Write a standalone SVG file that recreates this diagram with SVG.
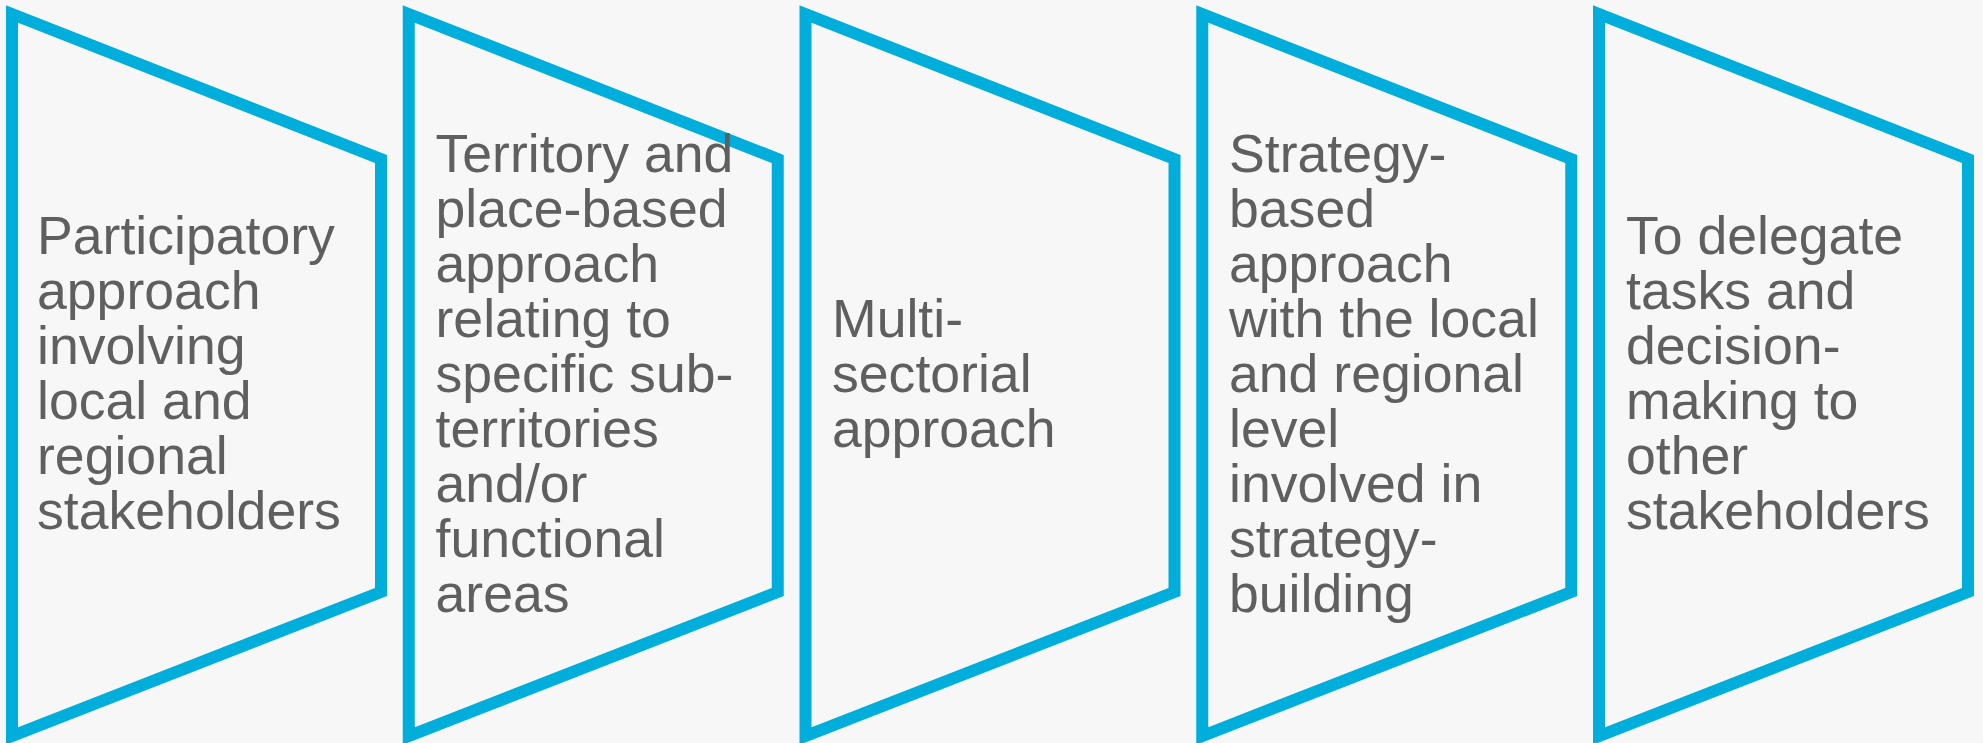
<svg xmlns="http://www.w3.org/2000/svg" width="1983" height="743" viewBox="0 0 1983 743">
<style>
.shape{fill:#F7F7F7;stroke:#00AEDB;stroke-width:12;stroke-linejoin:miter;stroke-miterlimit:10}
.lbl{font-family:"Liberation Sans",Arial,sans-serif;font-size:53.6px;fill:#5F5F5F}
</style>
<rect x="0" y="0" width="1983" height="743" fill="#F7F7F7"/>
<g id="node1">
<polygon class="shape" points="12,14 381,159 381,592 12,736"/>
<text class="lbl" x="37" y="254"><tspan x="37">Participatory</tspan><tspan x="37" dy="55">approach</tspan><tspan x="37" dy="55">involving</tspan><tspan x="37" dy="55">local and</tspan><tspan x="37" dy="55">regional</tspan><tspan x="37" dy="55">stakeholders</tspan></text>
</g>
<g id="node2">
<polygon class="shape" points="408.75,14 777.75,159 777.75,592 408.75,736"/>
<text class="lbl" x="435.5" y="171.5"><tspan x="435.5">Territory and</tspan><tspan x="435.5" dy="55">place-based</tspan><tspan x="435.5" dy="55">approach</tspan><tspan x="435.5" dy="55">relating to</tspan><tspan x="435.5" dy="55">specific sub-</tspan><tspan x="435.5" dy="55">territories</tspan><tspan x="435.5" dy="55">and/or</tspan><tspan x="435.5" dy="55">functional</tspan><tspan x="435.5" dy="55">areas</tspan></text>
</g>
<g id="node3">
<polygon class="shape" points="805.5,14 1174.5,159 1174.5,592 805.5,736"/>
<text class="lbl" x="832" y="336.5"><tspan x="832">Multi-</tspan><tspan x="832" dy="55">sectorial</tspan><tspan x="832" dy="55">approach</tspan></text>
</g>
<g id="node4">
<polygon class="shape" points="1202.25,14 1571.25,159 1571.25,592 1202.25,736"/>
<text class="lbl" x="1229" y="171.5"><tspan x="1229">Strategy-</tspan><tspan x="1229" dy="55">based</tspan><tspan x="1229" dy="55">approach</tspan><tspan x="1229" dy="55">with the local</tspan><tspan x="1229" dy="55">and regional</tspan><tspan x="1229" dy="55">level</tspan><tspan x="1229" dy="55">involved in</tspan><tspan x="1229" dy="55">strategy-</tspan><tspan x="1229" dy="55">building</tspan></text>
</g>
<g id="node5">
<polygon class="shape" points="1599,14 1968,159 1968,592 1599,736"/>
<text class="lbl" x="1626" y="254"><tspan x="1626">To delegate</tspan><tspan x="1626" dy="55">tasks and</tspan><tspan x="1626" dy="55">decision-</tspan><tspan x="1626" dy="55">making to</tspan><tspan x="1626" dy="55">other</tspan><tspan x="1626" dy="55">stakeholders</tspan></text>
</g>
<g id="connectors"></g>
</svg>
